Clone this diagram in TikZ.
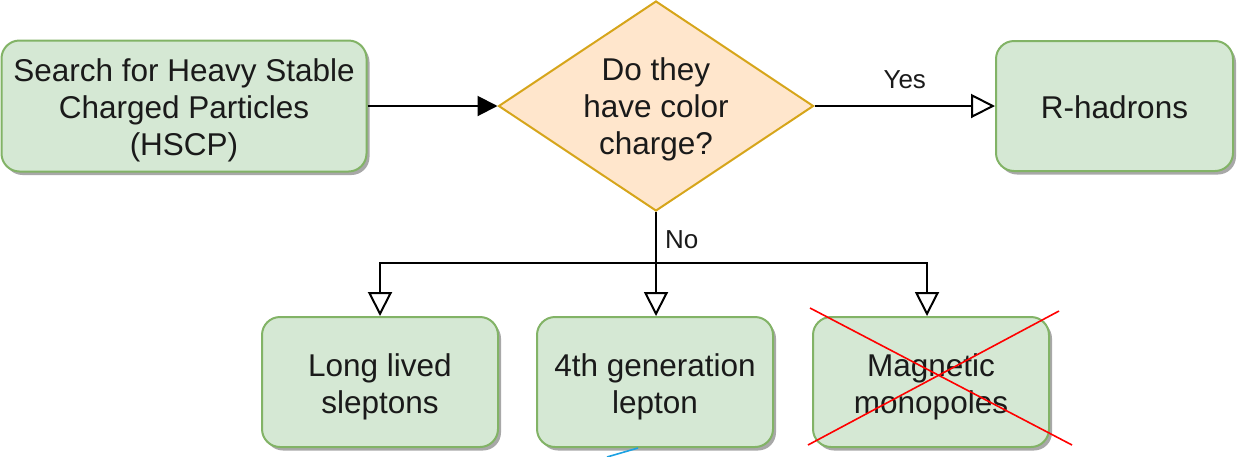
\documentclass[tikz,border=0pt]{standalone}
\usepackage{fontspec}
\setmainfont{Liberation Sans}
\usetikzlibrary{arrows.meta,shapes.geometric,shadows}
\definecolor{gfill}{HTML}{D5E8D4}
\definecolor{gline}{HTML}{82B366}
\definecolor{ofill}{HTML}{FFE6CC}
\definecolor{oline}{HTML}{D6A51A}
\definecolor{txt}{HTML}{1A1A1A}
\definecolor{bl}{HTML}{1BA1E2}
\begin{document}
\begin{tikzpicture}[x=1pt,y=-1pt,
  every node/.style={font=\fontsize{31.5}{37}\selectfont, text=txt, align=center},
  gbox/.style={draw=gline, fill=gfill, line width=2pt, rounded corners=18pt, inner sep=0pt,
    minimum width=236pt, minimum height=130pt,
    drop shadow={shadow xshift=3pt, shadow yshift=-3.5pt, fill=black!40, opacity=0.85}},
  qbox/.style={diamond, draw=oline, fill=ofill, line width=2pt, inner sep=0pt,
    minimum width=315pt, minimum height=210pt},
  tx/.style={inner sep=0pt},
  conn/.style={draw=black, line width=2pt},
  filltip/.style={conn, -{Triangle[length=20pt, width=20pt]}},
  opentip/.style={conn, -{Triangle[open, length=24pt, width=24pt, fill=white]}},
  lbl/.style={font=\fontsize{26}{30}\selectfont, inner sep=0pt}
]
\useasboundingbox (0,0) rectangle (1238,456);
\node[gbox, minimum width=365pt, minimum height=131pt] (hscp) at (184,106) {};
\node[tx] (hscpt) at ([yshift=-4pt]hscp.center) {Search for Heavy Stable\\Charged Particles\\(HSCP)};
\node[qbox] (q) at (656,106) {};
\node[tx] (qt) at ([yshift=-3pt]q.center) {Do they\\have color\\charge?};
\node[gbox, minimum width=237pt] (r) at (1114.5,106) {};
\node[tx] (rt) at ([yshift=-1pt]r.center) {R-hadrons};
\node[gbox] (b1) at (380,382) {};
\node[tx] (b1t) at ([yshift=-5pt]b1.center) {Long lived\\sleptons};
\node[gbox] (b2) at (655,382) {};
\node[tx] (b2t) at ([yshift=-5pt]b2.center) {4th generation\\lepton};
\node[gbox] (b3) at (931,382) {};
\node[tx] (b3t) at ([yshift=-5pt]b3.center) {Magnetic\\monopoles};
\coordinate (j) at (656,263);
\draw[filltip] (hscp.east) -- (q.west);
\draw[opentip] (q.east) -- node[lbl, above=16pt] {Yes} (r.west);
\draw[conn] (q.south) -- node[lbl, right=8pt, pos=0.55] {No} (j);
\draw[opentip] (j) -| (b1.north);
\draw[opentip] (j) -- (j |- b2.north);
\draw[opentip] (j) -| ([xshift=-4pt]b3.north);
\draw[red, line width=1.6pt] (810,308) -- (1072,445);
\draw[red, line width=1.6pt] (808,445) -- (1059,311);
\draw[bl, line width=1.6pt] (607,457) -- (638,448);
\end{tikzpicture}
\end{document}
